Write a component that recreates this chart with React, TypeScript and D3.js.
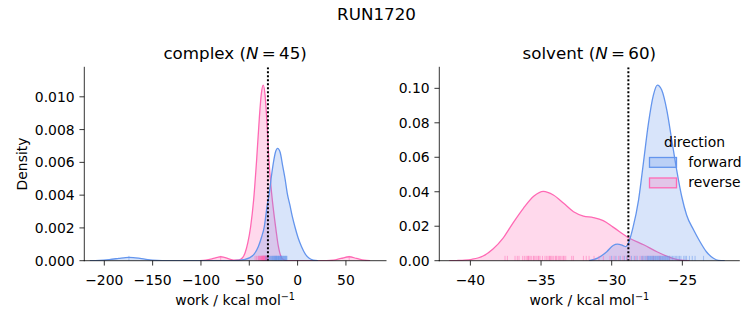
import React from 'react';
import * as d3 from 'd3';

const FONT = '"DejaVu Sans", sans-serif';
const BLUE = '#6495ED';
const PINK = '#FF69B4';

// ---- Data ----
// complex phase KDE (work, density)
const complexForwardWork = [-215, -205, -195, -185, -178, -174.5, -170, -163, -155, -145, -135, -120, -70, -62, -56, -50, -45, -40.7, -37.5, -34.5, -31.4, -29.3, -27, -25, -23, -20.7, -18, -15.5, -13, -10.7, -8, -5.5, -2.8, 0.5, 4.1, 8, 12, 16, 21];
const complexForwardDensity = [0, 0.00002, 0.00007, 0.00014, 0.00019, 0.0002, 0.00019, 0.00014, 0.00007, 0.00002, 0.000003, 0, 0, 0.00002, 0.00006, 0.00017, 0.0004, 0.00085, 0.0014, 0.00207, 0.0034, 0.00411, 0.0052, 0.006, 0.0066, 0.00685, 0.0066, 0.0058, 0.005, 0.00411, 0.0034, 0.0027, 0.00207, 0.0014, 0.00085, 0.0004, 0.00015, 0.00004, 0];
const complexReverseWork = [-101, -95, -88, -83, -79.6, -76, -71, -66, -61, -57, -54.5, -51.5, -48.6, -45.5, -42.4, -39.5, -37.5, -35.6, -33.5, -31.5, -29.7, -27.5, -25, -22.4, -20, -18.3, -16.5, -14.9, -12, -8, 30, 37, 45, 53.4, 61, 69, 75];
const complexReverseDensity = [0, 0.00003, 0.00012, 0.0002, 0.00024, 0.0002, 0.00011, 0.00004, 0.00005, 0.00018, 0.00045, 0.0011, 0.00207, 0.0037, 0.00614, 0.0088, 0.0102, 0.01071, 0.01, 0.0082, 0.0062, 0.0045, 0.0031, 0.0019, 0.0009, 0.00045, 0.00018, 0.00007, 0.00001, 0, 0, 0.00003, 0.00014, 0.00024, 0.00014, 0.00003, 0];

// solvent phase KDE (work, density)
const solventForwardWork = [-31.6, -31.0, -30.35, -29.9, -29.6, -29.2, -29.0, -28.8, -28.5, -28.1, -27.76, -27.4, -27.05, -26.77, -26.46, -26.1, -25.75, -25.4, -25.04, -24.7, -24.2, -23.75, -23.3, -22.8, -22.45, -22.0];
const solventForwardDensity = [0, 0.0015, 0.0052, 0.0088, 0.0096, 0.0088, 0.0082, 0.0105, 0.019, 0.0352, 0.0565, 0.0797, 0.0961, 0.1019, 0.099, 0.0874, 0.07, 0.0526, 0.0371, 0.0265, 0.0178, 0.011, 0.0052, 0.0014, 0.0002, 0];
const solventReverseWork = [-41.5, -41.0, -40.4, -39.9, -39.1, -38.4, -37.7, -37.0, -36.25, -35.5, -34.84, -34.13, -33.4, -32.7, -32.0, -31.3, -30.6, -29.9, -28.8, -27.7, -26.8, -25.9, -25.2, -24.5];
const solventReverseDensity = [0, 0.0001, 0.0003, 0.0008, 0.0027, 0.0068, 0.013, 0.0217, 0.0304, 0.0375, 0.0402, 0.0381, 0.0333, 0.0284, 0.0259, 0.025, 0.0232, 0.0195, 0.0133, 0.0091, 0.0052, 0.002, 0.0004, 0];

// rug samples
const complexForwardRug = [-174.5, -33, -31.5, -30, -29, -28.5, -28, -27, -26.5, -26, -25.5, -25, -24.5, -24, -23.5, -23, -22.5, -22, -21.5, -21, -20.5, -20, -19.5, -19, -18.5, -18, -17.5, -17, -16.5, -16, -15.5, -15, -14.5, -14, -13.5, -13, -12.5, -12, -11.5, -11, -23.2, -21.8, -19.8, -18.2, -16.8];
const complexReverseRug = [-79.6, 53.4, -44, -42.5, -41, -40, -39.5, -39, -38.5, -38, -37.5, -37, -36.8, -36.5, -36.2, -36, -35.8, -35.5, -35.3, -35, -34.8, -34.5, -34.2, -34, -33.7, -33.5, -33.2, -33, -32.7, -32.5, -32.2, -32, -31.7, -31.5, -31.2, -31, -30.7, -30.4, -40.5, -37.8, -35.1, -33.9, -36.6, -34.6, -32.9];
const solventForwardRug = [-30.0, -29.7, -29.4, -28.9, -28.4, -28.2, -27.9, -27.8, -27.7, -27.6, -27.5, -27.4, -27.35, -27.3, -27.2, -27.15, -27.1, -27.05, -27.0, -26.95, -26.9, -26.85, -26.8, -26.75, -26.7, -26.65, -26.6, -26.55, -26.5, -26.45, -26.4, -26.35, -26.3, -26.2, -26.1, -26.0, -25.9, -25.8, -25.7, -25.6, -25.5, -25.4, -25.3, -25.1, -24.9, -24.7, -24.5, -24.3, -24.1, -23.5, -27.25, -26.25, -26.05, -25.95, -26.15, -27.45, -28.6, -29.1, -25.2, -24.8];
const solventReverseRug = [-37.55, -37.38, -36.84, -36.68, -36.56, -36.18, -36.06, -35.97, -35.87, -35.78, -35.69, -35.55, -35.42, -35.3, -35.16, -35.07, -34.72, -34.6, -34.5, -34.36, -34.22, -34.13, -34.0, -33.89, -33.78, -33.61, -33.51, -33.37, -33.25, -32.83, -32.71, -32.0, -31.6, -31.25, -30.59, -30.12, -29.83, -28.94, -28.7, -28.0, -27.5, -27.05, -26.6, -25.9, -35.5, -35.2, -34.9, -34.4, -34.3, -33.95, -33.7, -33.4, -35.9, -36.3, -30.9, -31.8, -29.5, -29.2, -28.3, -27.8];

const complexXTicks = [-200, -150, -100, -50, 0, 50];
const complexYTicks = [0, 0.002, 0.004, 0.006, 0.008, 0.01];
const solventXTicks = [-40, -35, -30, -25];
const solventYTicks = [0, 0.02, 0.04, 0.06, 0.08, 0.1];

const complexFreeEnergy = -30.7;
const solventFreeEnergy = -28.82;

const legendLabels = ['forward', 'reverse'];

const zip = (xs: number[], ys: number[]) => xs.map((x, i) => [x, ys[i]] as [number, number]);

type Curve = { pts: [number, number][]; color: string };

function Panel(props: {
  x0: number; x1: number; y0: number; y1: number;
  xDomain: [number, number]; yDomain: [number, number];
  xTicks: number[]; yTicks: number[]; yFmt: string;
  curves: Curve[]; rugs: { values: number[]; color: string }[];
  vline: number; name: string; n: number; showYLabel: boolean; legend?: boolean;
}) {
  const { x0, x1, y0, y1 } = props;
  const x = d3.scaleLinear().domain(props.xDomain).range([x0, x1]);
  const y = d3.scaleLinear().domain(props.yDomain).range([y1, y0]);
  const area = d3.area<[number, number]>().x(d => x(d[0])).y0(y(0)).y1(d => y(d[1])).curve(d3.curveMonotoneX);
  const line = d3.line<[number, number]>().x(d => x(d[0])).y(d => y(d[1])).curve(d3.curveMonotoneX);
  const yf = d3.format(props.yFmt);
  const tickLen = 4.86;
  const fs = 13.9;
  const rugH = (y1 - y0) * 0.025;
  const cx = (x0 + x1) / 2;
  const clipId = 'clip-' + props.name;
  return (
    <g>
      <defs>
        <clipPath id={clipId}><rect x={x0} y={y0} width={x1 - x0} height={y1 - y0} /></clipPath>
      </defs>
      <g clipPath={`url(#${clipId})`}>
        {props.curves.map((c, i) => (
          <g key={i}>
            <path d={area(c.pts) || ''} fill={c.color} fillOpacity={0.25} stroke="none" />
            <path d={line(c.pts) || ''} fill="none" stroke={c.color} strokeWidth={1.3} />
          </g>
        ))}
        {props.rugs.map((r, i) => (
          <g key={'r' + i}>
            {r.values.map((v, j) => (
              <line key={j} x1={x(v)} x2={x(v)} y1={y1} y2={y1 - rugH} stroke={r.color} strokeWidth={1} strokeOpacity={0.5} />
            ))}
          </g>
        ))}
        <line x1={x(props.vline)} x2={x(props.vline)} y1={y0} y2={y1} stroke="#000" strokeWidth={2} strokeDasharray="2,2" />
      </g>
      {/* spines */}
      <line x1={x0} x2={x0} y1={y0} y2={y1} stroke="#000" strokeWidth={0.8} strokeLinecap="square" />
      <line x1={x0} x2={x1} y1={y1} y2={y1} stroke="#000" strokeWidth={0.8} strokeLinecap="square" />
      {props.xTicks.map(t => (
        <g key={'x' + t}>
          <line x1={x(t)} x2={x(t)} y1={y1} y2={y1 + tickLen} stroke="#000" strokeWidth={0.8} />
          <text x={x(t)} y={y1 + 24} textAnchor="middle" fontFamily={FONT} fontSize={fs} fill="#000">{String(t).replace('-', '\u2212')}</text>
        </g>
      ))}
      {props.yTicks.map(t => (
        <g key={'y' + t}>
          <line x1={x0} x2={x0 - tickLen} y1={y(t)} y2={y(t)} stroke="#000" strokeWidth={0.8} />
          <text x={x0 - tickLen - 4.86} y={y(t) + 5.07} textAnchor="end" fontFamily={FONT} fontSize={fs} fill="#000">{yf(t)}</text>
        </g>
      ))}
      <text x={cx} y={y0 - 8.5} textAnchor="middle" fontFamily={FONT} fontSize={16.7} fill="#000">
        <tspan>{props.name + ' ('}</tspan>
        <tspan fontStyle="italic">N</tspan>
        <tspan>{'\u2009=\u2009' + props.n + ')'}</tspan>
      </text>
      <text x={cx} y={y1 + 44.5} textAnchor="middle" fontFamily={FONT} fontSize={fs} fill="#000">
        <tspan>work / kcal mol</tspan>
        <tspan dy={-5.5} fontSize={9.7}>{'\u22121'}</tspan>
      </text>
      {props.showYLabel && (
        <text transform={`translate(${26.5},${(y0 + y1) / 2}) rotate(-90)`} textAnchor="middle" fontFamily={FONT} fontSize={fs} fill="#000">Density</text>
      )}
      {props.legend && (
        <g fontFamily={FONT} fontSize={fs} fill="#000">
          <text x={694.5} y={146.5} textAnchor="middle">direction</text>
          {legendLabels.map((lab, i) => {
            const col = i === 0 ? BLUE : PINK;
            const ty = 157.5 + i * 20.5;
            return (
              <g key={lab}>
                <rect x={649.5} y={ty} width={27} height={9.8} fill={col} fillOpacity={0.25} stroke={col} strokeWidth={1.3} />
                <text x={688.3} y={ty + 9} >{lab}</text>
              </g>
            );
          })}
        </g>
      )}
    </g>
  );
}

export default function App() {
  const top = 67.3, bottom = 260.7;
  return (
    <svg width={753} height={325} style={{ position: 'absolute', left: 0, top: 0, background: '#fff' }}>
      <rect x={0} y={0} width={753} height={325} fill="#fff" />
      <text x={376.5} y={19.5} textAnchor="middle" fontFamily={FONT} fontSize={16.7} fill="#000">RUN1720</text>
      <Panel
        x0={84.3} x1={386} y0={top} y1={bottom}
        xDomain={[-220.7, -220.7 + (386 - 84.3) / 0.9665]} yDomain={[0, 0.0118]}
        xTicks={complexXTicks} yTicks={complexYTicks} yFmt=".3f"
        curves={[
          { pts: zip(complexReverseWork, complexReverseDensity), color: PINK },
          { pts: zip(complexForwardWork, complexForwardDensity), color: BLUE },
        ]}
        rugs={[{ values: complexReverseRug, color: PINK }, { values: complexForwardRug, color: BLUE }]}
        vline={complexFreeEnergy} name="complex" n={45} showYLabel={true}
      />
      <Panel
        x0={439.3} x1={739.3} y0={top} y1={bottom}
        xDomain={[-42.2, -20.97]} yDomain={[0, 0.1122]}
        xTicks={solventXTicks} yTicks={solventYTicks} yFmt=".2f"
        curves={[
          { pts: zip(solventReverseWork, solventReverseDensity), color: PINK },
          { pts: zip(solventForwardWork, solventForwardDensity), color: BLUE },
        ]}
        rugs={[{ values: solventReverseRug, color: PINK }, { values: solventForwardRug, color: BLUE }]}
        vline={solventFreeEnergy} name="solvent" n={60} showYLabel={false} legend={true}
      />
    </svg>
  );
}
